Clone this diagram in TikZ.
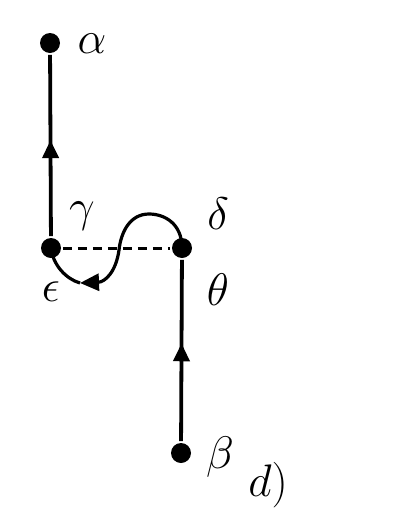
\documentclass[tikz,border=0pt]{standalone}
\usetikzlibrary{arrows.meta,decorations.markings}
\begin{document}
\begin{tikzpicture}[x=1pt,y=-1pt,line width=3.8pt,
  dot/.style={circle,fill,inner sep=0pt,minimum size=20pt},
  lab/.style={font=\huge,scale=2.2,inner sep=0pt},
  tip/.style={-{Triangle[length=19pt,width=17pt]}},
  midarrow/.style={postaction={decorate},decoration={markings,mark=at position #1 with {\arrow{Triangle[length=18pt,width=16pt]}}}}]
\useasboundingbox (0,0) rectangle (411,520);
\node[dot] (a) at (50,43) {};
\node[dot] (g) at (51,248) {};
\node[dot] (d) at (182,248) {};
\node[dot] (b) at (181,453) {};
\coordinate (t) at (80,283);
\draw[midarrow=0.53] (g) -- (a);
\draw[midarrow=0.54] (b) -- (d);
\draw[line width=3pt,dash pattern=on 9pt off 6pt] (g) -- (d);
\draw[line width=3.2pt,tip] (d.center) .. controls (182,224) and (165,214) .. (149,214)
  .. controls (130,214) and (121,232) .. (119,250)
  .. controls (116,272) and (105,282) .. (t);
\draw[line width=3.2pt] (t) .. controls (66,279) and (53,265) .. (g.center);
\node[lab] (la) at (92,44) {$\alpha$};
\node[lab] (lg) at (82,216) {$\gamma$};
\node[lab] (ld) at (218,214) {$\delta$};
\node[lab] (le) at (51,292) {$\epsilon$};
\node[lab] (lt) at (218,290) {$\theta$};
\node[lab] (lb) at (220,457) {$\beta$};
\node[lab] (ldd) at (268,485) {$d)$};
\end{tikzpicture}
\end{document}
